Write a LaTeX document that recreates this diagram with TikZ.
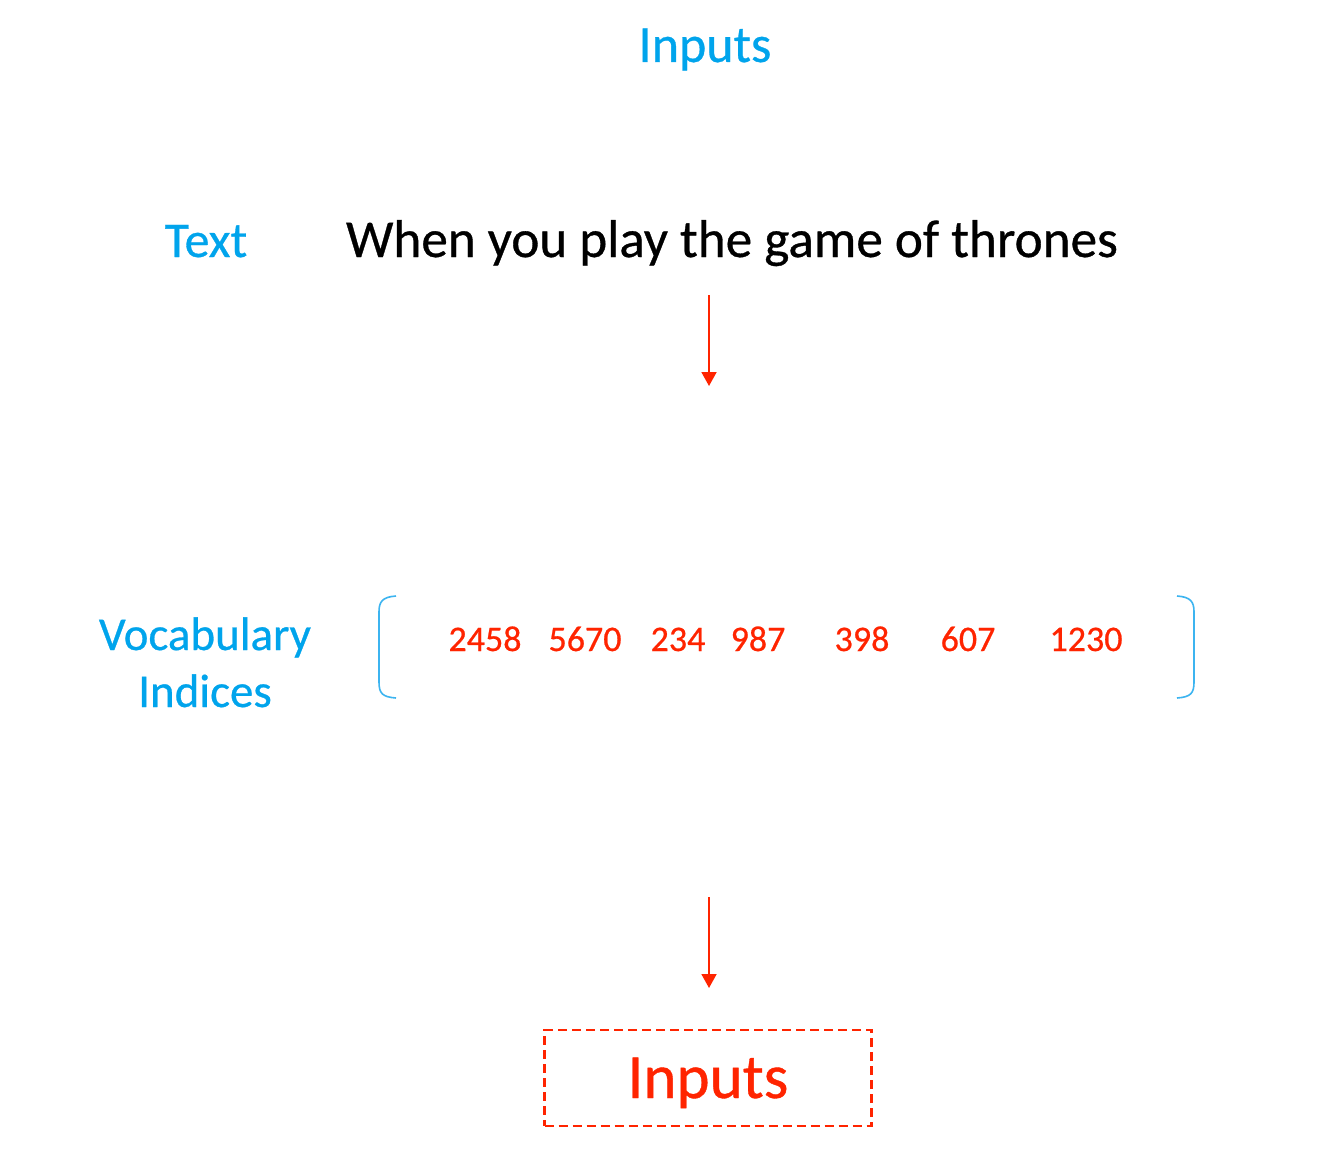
\documentclass[tikz,border=0pt]{standalone}
\usepackage{fontspec}
\setmainfont{Carlito}[FakeBold=0.6]
\usetikzlibrary{arrows.meta}
\definecolor{cblue}{RGB}{0,164,236}
\definecolor{bblue}{RGB}{60,180,240}
\definecolor{cred}{RGB}{255,36,0}
\tikzset{
  lbl/.style={inner sep=0pt, anchor=base, text=cblue, font=\fontsize{50}{57}\selectfont},
  num/.style={inner sep=0pt, anchor=base, text=cred, font=\fontsize{36}{40}\selectfont},
  redarrow/.style={draw=cred, line width=1.9pt, -{Triangle[width=15pt,length=14pt]}},
  bracket/.style={draw=bblue, line width=1.6pt},
}
\begin{document}
\begin{tikzpicture}[x=1pt,y=-1pt]
\useasboundingbox[fill=white] (0,0) rectangle (1324,1164);
\node[lbl, font=\fontsize{52}{60}\selectfont] (title) at (705,62) {Inputs};
\node[lbl] (textlbl) at (206,257) {Text};
\node[inner sep=0pt, anchor=base, font=\fontsize{53.2}{60}\selectfont] (sentence) at (732,257) {When you play the game of thrones};
\node[lbl, font=\fontsize{47}{57}\selectfont, align=center, anchor=base] (vocab) at (205,707) {Vocabulary\\Indices};
\node[num] (n1) at (485,651) {2458};
\node[num] (n2) at (585,651) {5670};
\node[num] (n3) at (678,651) {234};
\node[num] (n4) at (758,651) {987};
\node[num] (n5) at (862,651) {398};
\node[num] (n6) at (968,651) {607};
\node[num] (n7) at (1086,651) {1230};
% brackets
\coordinate (lbt) at (396,596);
\coordinate (lbb) at (396,698);
\coordinate (rbt) at (1177,596);
\coordinate (rbb) at (1177,698);
\draw[bracket] (lbt) .. controls (382,597) and (379,602) .. (379,612) -- (379,682) .. controls (379,693) and (382,697) .. (lbb);
\draw[bracket] (rbt) .. controls (1191,597) and (1194,602) .. (1194,612) -- (1194,682) .. controls (1194,693) and (1191,697) .. (rbb);
% arrows
\coordinate (a1s) at (709,295);
\coordinate (a1e) at (709,386);
\coordinate (a2s) at (709,897);
\coordinate (a2e) at (709,988);
\draw[redarrow] (a1s) -- (a1e);
\draw[redarrow] (a2s) -- (a2e);
% output box
\node[draw=cred, dash pattern=on 9pt off 5pt, line width=2.4pt, minimum width=327pt, minimum height=96pt, inner sep=0pt] (outbox) at (708,1078) {};
\node[inner sep=0pt, anchor=base, text=cred, font=\fontsize{63}{70}\selectfont] (outtxt) at (708,1098) {Inputs};
\end{tikzpicture}
\end{document}
